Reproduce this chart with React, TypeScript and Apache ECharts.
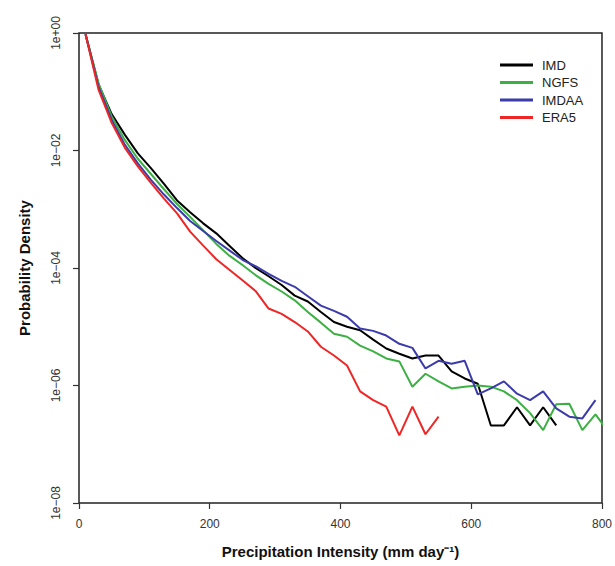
import React, { useEffect, useRef } from "react";
import * as echarts from "echarts";

// Bin centres (mm day^-1)
const bins = [10, 30, 50, 70, 90, 110, 130, 150, 170, 190, 210, 230, 250, 270, 290, 310, 330, 350, 370, 390,
  410, 430, 450, 470, 490, 510, 530, 550, 570, 590, 610, 630, 650, 670, 690, 710, 730, 750, 770, 790, 810];

// log10 of probability density
const imdLog10 = [-0.02, -0.88, -1.38, -1.73, -2.05, -2.3, -2.57, -2.85, -3.05, -3.24, -3.41, -3.62, -3.83, -4.0,
  -4.14, -4.29, -4.47, -4.57, -4.75, -4.92, -5.0, -5.06, -5.22, -5.37, -5.46, -5.54, -5.49, -5.49, -5.76, -5.88,
  -5.97, -6.68, -6.68, -6.37, -6.68, -6.37, -6.68];
const ngfsLog10 = [-0.02, -0.86, -1.42, -1.82, -2.14, -2.4, -2.66, -2.91, -3.13, -3.36, -3.59, -3.79, -3.95, -4.12,
  -4.27, -4.4, -4.55, -4.75, -4.93, -5.12, -5.17, -5.32, -5.42, -5.54, -5.59, -6.02, -5.8, -5.93, -6.05, -6.02,
  -6.0, -6.02, -6.1, -6.25, -6.47, -6.76, -6.32, -6.31, -6.76, -6.49, -6.79];
const imdaaLog10 = [-0.02, -0.92, -1.48, -1.9, -2.22, -2.5, -2.75, -2.98, -3.2, -3.37, -3.54, -3.7, -3.86, -3.97,
  -4.1, -4.22, -4.32, -4.48, -4.64, -4.73, -4.83, -5.03, -5.07, -5.15, -5.29, -5.36, -5.71, -5.58, -5.63, -5.58,
  -6.15, -6.05, -5.93, -6.14, -6.25, -6.1, -6.39, -6.53, -6.56, -6.25];
const era5Log10 = [-0.02, -0.97, -1.53, -1.95, -2.27, -2.55, -2.82, -3.07, -3.38, -3.62, -3.85, -4.03, -4.21, -4.39,
  -4.69, -4.78, -4.92, -5.08, -5.34, -5.49, -5.66, -6.1, -6.25, -6.36, -6.85, -6.36, -6.83, -6.53];

const seriesNames = ["IMD", "NGFS", "IMDAA", "ERA5"];
const seriesColors = ["#000000", "#3cb043", "#3b3bab", "#ee2626"];
const seriesLogs = [imdLog10, ngfsLog10, imdaaLog10, era5Log10];

const xTicks = [0, 200, 400, 600, 800];

const FONT = "Liberation Sans, Arial, Helvetica, sans-serif";

export default function App() {
  const ref = useRef<HTMLDivElement>(null);
  useEffect(() => {
    if (!ref.current) return;
    const chart = echarts.init(ref.current, undefined, { renderer: "svg" });
    const series = seriesNames.map((name, i) => ({
      name,
      type: "line",
      showSymbol: false,
      symbol: "none",
      clip: true,
      lineStyle: { color: seriesColors[i], width: 2 },
      itemStyle: { color: seriesColors[i] },
      data: seriesLogs[i].map((v, j) => [bins[j], Math.pow(10, v)]),
    }));
    chart.setOption({
      animation: false,
      backgroundColor: "#ffffff",
      textStyle: { fontFamily: FONT },
      grid: {
        left: 79,
        right: 12,
        top: 33,
        bottom: 63,
        show: true,
        borderColor: "#222",
        borderWidth: 1.5,
        backgroundColor: "transparent",
      },
      legend: {
        orient: "vertical",
        left: 495,
        top: 53,
        itemWidth: 33,
        itemHeight: 3,
        itemGap: 3.5,
        icon: "rect",
        data: seriesNames,
        textStyle: { fontFamily: FONT, fontSize: 13, color: "#222", padding: [0, 0, 0, 4], lineHeight: 14 },
      },
      xAxis: {
        type: "value",
        min: xTicks[0],
        max: xTicks[xTicks.length - 1],
        interval: 200,
        axisLine: { show: false },
        splitLine: { show: false },
        axisTick: { show: true, inside: false, length: 6, lineStyle: { color: "#333", width: 1.2 } },
        axisLabel: { color: "#333", fontSize: 12, margin: 15, fontFamily: FONT },
        name: "Precipitation Intensity (mm day⁻¹)",
        nameLocation: "middle",
        nameGap: 41,
        nameTextStyle: { fontSize: 15, fontWeight: "bold", color: "#111", fontFamily: FONT },
      },
      yAxis: {
        type: "log",
        logBase: 10,
        min: 1e-8,
        max: 1,
        interval: 2,
        axisLine: { show: false },
        splitLine: { show: false },
        axisTick: { show: true, inside: false, length: 6, lineStyle: { color: "#333", width: 1.2 } },
        axisLabel: {
          color: "#333",
          fontSize: 12,
          rotate: 90,
          margin: 17,
          fontFamily: FONT,
          formatter: (v: number) => {
            const e = Math.round(Math.log10(v));
            const s = e < 0 ? "−" : "+";
            const a = Math.abs(e);
            return "1e" + s + (a < 10 ? "0" + a : String(a));
          },
        },
        name: "Probability Density",
        nameLocation: "middle",
        nameGap: 47,
        nameTextStyle: { fontSize: 15, fontWeight: "bold", color: "#111", fontFamily: FONT },
      },
      series,
    });
    return () => chart.dispose();
  }, []);
  return (
    <div
      ref={ref}
      style={{ position: "fixed", left: 0, top: 0, width: 615, height: 566 }}
    />
  );
}
